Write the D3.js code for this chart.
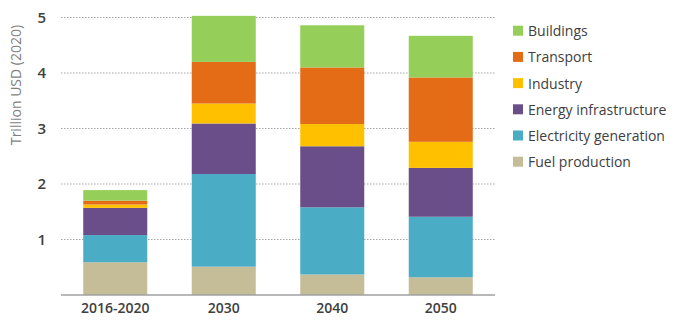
<!DOCTYPE html>
<html><head><meta charset="utf-8">
<script src="https://cdn.jsdelivr.net/npm/d3@7"></script>
<style>body{margin:0;background:#fff}svg{display:block}</style>
</head><body>
<script>
const categories = ["2016-2020", "2030", "2040", "2050"];
const seriesNames = ["Fuel production", "Electricity generation", "Energy infrastructure", "Industry", "Transport", "Buildings"];
const fuelProduction = [0.59, 0.51, 0.37, 0.32];
const electricityGeneration = [0.49, 1.67, 1.21, 1.09];
const energyInfrastructure = [0.49, 0.91, 1.10, 0.88];
const industry = [0.06, 0.36, 0.40, 0.47];
const transport = [0.07, 0.75, 1.02, 1.16];
const buildings = [0.19, 0.83, 0.76, 0.75];
const yTicks = [1, 2, 3, 4, 5];
const colors = ["#c4bd97", "#4bacc6", "#6a4e89", "#ffc000", "#e46c17", "#95cf5a"];

const seriesValues = [fuelProduction, electricityGeneration, energyInfrastructure, industry, transport, buildings];
const rows = categories.map((c, i) => {
  const r = {cat: c};
  seriesNames.forEach((s, j) => r[s] = seriesValues[j][i]);
  return r;
});

const W = 678, H = 330;
const svg = d3.select("body").append("svg").attr("width", W).attr("height", H);
const font = "'Open Sans', sans-serif";

const x = d3.scaleBand().domain(categories).range([61, 495]).paddingInner(0.41).paddingOuter(0.205);
const y = d3.scaleLinear().domain([0, 5]).range([295, 17.5]);

// gridlines
svg.append("g").selectAll("line").data(yTicks).join("line")
  .attr("x1", 61).attr("x2", 495)
  .attr("y1", d => y(d)).attr("y2", d => y(d))
  .attr("stroke", "#a6a6a6").attr("stroke-width", 1.2).attr("stroke-dasharray", "1.5,1.5");

const stack = d3.stack().keys(seriesNames)(rows);
svg.append("g").selectAll("g").data(stack).join("g")
  .attr("fill", (d, i) => colors[i])
  .selectAll("rect").data(d => d).join("rect")
  .attr("x", d => x(d.data.cat))
  .attr("width", x.bandwidth())
  .attr("y", d => y(d[1]))
  .attr("height", d => y(d[0]) - y(d[1]));

// baseline
svg.append("line").attr("x1", 61).attr("x2", 495).attr("y1", y(0)).attr("y2", y(0))
  .attr("stroke", "#a0a0a0").attr("stroke-width", 1.5);

// y axis labels
const yAxis = d3.axisLeft(y).tickValues(yTicks).tickSize(0).tickPadding(0).tickFormat(d3.format("d"));
const ya = svg.append("g").attr("transform", "translate(46,0)").call(yAxis);
ya.select(".domain").remove();
ya.selectAll("text").attr("font-family", font).attr("font-size", 15).attr("font-weight", 600).attr("fill", "#404040");

// x axis labels
const xAxis = d3.axisBottom(x).tickSize(0).tickPadding(0);
const xa = svg.append("g").attr("transform", "translate(0,303)").call(xAxis);
xa.select(".domain").remove();
xa.selectAll("text").attr("font-family", font).attr("font-size", 14).attr("font-weight", 600).attr("fill", "#404040");

// y title
svg.append("text").attr("transform", "translate(15,85) rotate(-90)")
  .attr("text-anchor", "middle").attr("dominant-baseline", "central")
  .attr("font-family", font).attr("font-size", 14).attr("fill", "#7f7f7f")
  .text("Trillion USD (2020)");

// legend
const legendOrder = seriesNames.map((s, i) => ({name: s, color: colors[i]})).reverse();
const lg = svg.append("g").selectAll("g").data(legendOrder).join("g")
  .attr("transform", (d, i) => `translate(513,${30.7 + i * 26.2})`);
lg.append("rect").attr("x", 0).attr("y", -5).attr("width", 10).attr("height", 10).attr("fill", d => d.color);
lg.append("text").attr("x", 15).attr("y", 0).attr("dominant-baseline", "central")
  .attr("font-family", font).attr("font-size", 14).attr("fill", "#404040")
  .text(d => d.name);
</script>
</body></html>
